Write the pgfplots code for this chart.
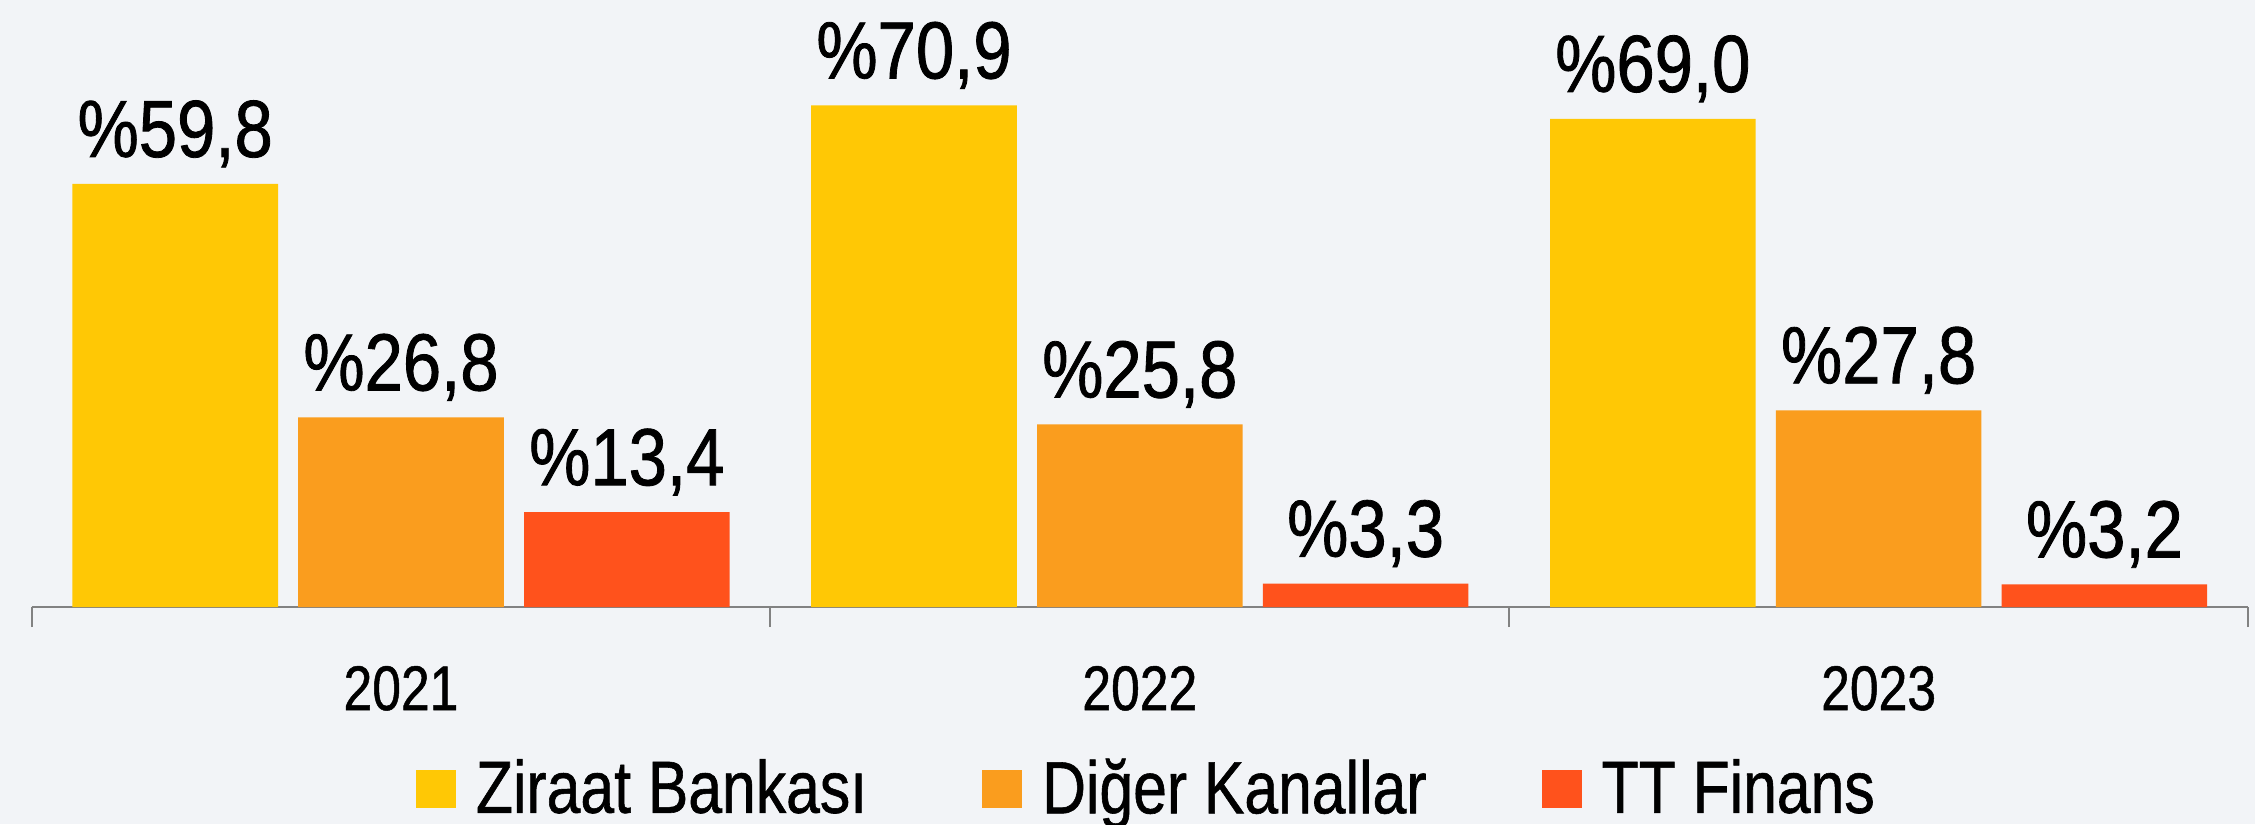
\documentclass[border=0pt]{standalone}
\usepackage{fontspec}
\setmainfont{Liberation Sans}[FakeStretch=0.82,FakeBold=0.8]
\newfontfamily\valfont{Liberation Sans}[FakeStretch=0.85,FakeBold=1.0]
\usepackage{pgfplots}
\pgfplotsset{compat=1.18}
\definecolor{zir}{RGB}{255,200,5}
\definecolor{dig}{RGB}{250,157,30}
\definecolor{ttf}{RGB}{255,82,28}
\definecolor{bg}{RGB}{242,244,247}
\definecolor{axgray}{RGB}{130,130,130}
\pgfplotsset{
  sqlegend/.style={legend image code/.code={\fill[##1] (0pt,-4.75pt) rectangle (10pt,4.75pt);}}
}
\begin{document}
\begin{tikzpicture}
\useasboundingbox (0,0) rectangle (563.75pt,206pt);
\fill[bg] (0,0) rectangle (563.75pt,206pt);
\begin{axis}[
  at={(7.9pt,54.25pt)}, anchor=south west,
  scale only axis, width=554.1pt, height=141.5pt,
  ymin=0, ymax=80, xmin=-0.5, xmax=2.5,
  enlarge x limits=false, enlarge y limits=false,
  clip=false,
  axis x line=bottom, axis y line=none,
  x axis line style={-, draw=axgray, line width=0.5pt},
  ybar=5.05pt, bar width=51.4pt,
  xtick={0,1,2}, xticklabels={2021,2022,2023},
  major tick length=0pt,
  minor xtick={-0.5,0.5,1.5,2.5}, minor tick length=5pt, tick align=outside,
  minor tick style={draw=axgray, line width=0.5pt},
  major tick style={draw=none},
  xticklabel style={font=\fontsize{15.75}{18}\selectfont, anchor=base, yshift=-25.75pt, text=black},
  nodes near coords={\%\pgfmathprintnumber[fixed,fixed zerofill,precision=1,use comma,assume math mode=true]{\pgfplotspointmeta}},
  every node near coord/.append style={font=\valfont\fontsize{20.25}{24}\selectfont, anchor=base, yshift=6.75pt, text=black},
  legend columns=3,
  legend style={draw=none, fill=none, at={(0.5025,-0.3216)}, anchor=center,
    font=\fontsize{18.5}{22}\selectfont,
    nodes={inner sep=0pt},
    /tikz/every odd column/.append style={column sep=5pt},
    /tikz/every even column/.append style={column sep=28.75pt}},
]
\addplot[fill=zir, draw=none, sqlegend] coordinates {(0,59.8) (1,70.9) (2,69.0)};
\addplot[fill=dig, draw=none, sqlegend] coordinates {(0,26.8) (1,25.8) (2,27.8)};
\addplot[fill=ttf, draw=none, sqlegend] coordinates {(0,13.4) (1,3.3) (2,3.2)};
\legend{Ziraat Bankası, Diğer Kanallar, TT Finans}
\end{axis}
\end{tikzpicture}
\end{document}
